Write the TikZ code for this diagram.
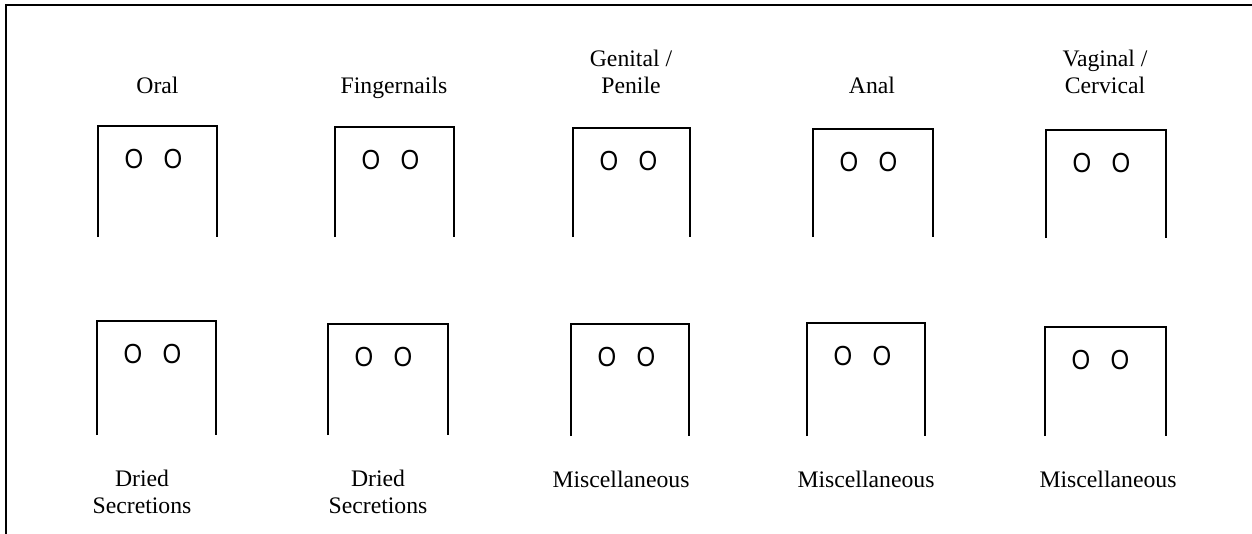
\documentclass[tikz,border=0pt]{standalone}
\usepackage{fontspec}
\setmainfont{Liberation Serif}
\newfontfamily\osans{Liberation Sans}
\begin{document}
\begin{tikzpicture}[x=1pt,y=-1pt,
  frameline/.style={line width=1.6pt,line cap=rect},
  boxline/.style={line width=1.6pt,line join=miter},
  lbl/.style={anchor=base,align=center,inner sep=0pt,font=\fontsize{23.7}{27}\selectfont},
  oo/.style={anchor=base,inner sep=0pt,font=\fontsize{24}{28}\osans}]
\useasboundingbox (0,0) rectangle (1252,533);
\draw[frameline] (6,533) -- (6,5) -- (1252,5);
% boxes: name/left/right/top/bottom
\foreach \n/\l/\r/\t/\b in {a1/98/217/126/237, a2/335/454/127/237, a3/573/690/128/237, a4/813/933/129/237, a5/1046/1166/130/238,
                            b1/97/216/321/435, b2/328/448/324/435, b3/571/689/324/436, b4/807/925/323/436, b5/1045/1166/327/436}{
  \draw[boxline] (\l,\b) -- (\l,\t) -- (\r,\t) -- (\r,\b);
  \node[oo] (\n o1) at (\l+36,\t+42) {\scalebox{1}[1.15]{O}};
  \node[oo] (\n o2) at (\l+75,\t+42) {\scalebox{1}[1.15]{O}};
}
% top labels
\node[lbl] (l1) at (157.5,93) {Oral};
\node[lbl] (l2) at (394,93) {Fingernails};
\node[lbl] (l3) at (631,93) {Genital /\\Penile};
\node[lbl] (l4) at (872,93) {Anal};
\node[lbl] (l5) at (1105,93) {Vaginal /\\Cervical};
% bottom labels
\node[lbl] (m1) at (142,513) {Dried\\Secretions};
\node[lbl] (m2) at (378,513) {Dried\\Secretions};
\node[lbl] (m3) at (621,487) {Miscellaneous};
\node[lbl] (m4) at (866,487) {Miscellaneous};
\node[lbl] (m5) at (1108,487) {Miscellaneous};
\end{tikzpicture}
\end{document}
